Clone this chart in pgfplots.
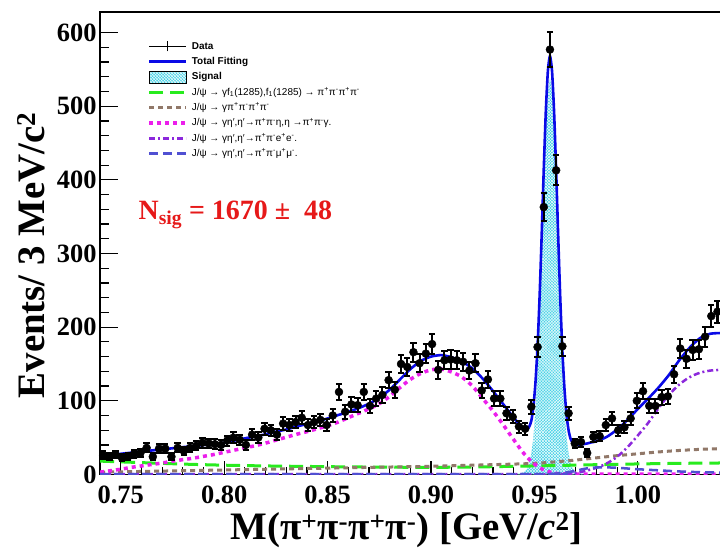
\documentclass[border=0pt]{standalone}
\usepackage{fontspec}
\setmainfont{Liberation Serif}
\newfontfamily\legfont{Liberation Sans}
\usepackage{pgfplots}
\pgfplotsset{compat=1.18}
\usetikzlibrary{patterns}
\definecolor{cblue}{RGB}{10,10,230}
\definecolor{csig}{RGB}{70,210,230}
\definecolor{cgreen}{RGB}{40,235,30}
\definecolor{cbrown}{RGB}{145,120,105}
\definecolor{cpink}{RGB}{235,30,235}
\definecolor{cpurple}{RGB}{140,40,220}
\definecolor{cbdash}{RGB}{80,80,210}
\definecolor{cred}{RGB}{230,25,25}

\pgfplotstableread{
x y e
0.7415 26 5.1
0.7445 24 4.9
0.7475 27 5.2
0.7505 23 4.8
0.7535 24 4.9
0.7565 28 5.3
0.7595 29 5.4
0.7625 36 6.0
0.7655 24 4.9
0.7685 35 5.9
0.7715 35 5.9
0.7745 24 4.9
0.7775 36 6.0
0.7805 32 5.7
0.7835 36 6.0
0.7865 39 6.2
0.7895 43 6.6
0.7925 42 6.5
0.7955 41 6.4
0.7985 40 6.3
0.8015 46 6.8
0.8045 50 7.1
0.8075 47 6.9
0.8105 40 6.3
0.8135 54 7.3
0.8165 50 7.1
0.8195 62 7.9
0.8225 60 7.7
0.8255 54 7.3
0.8285 69 8.3
0.8315 67 8.2
0.8345 71 8.4
0.8375 77 8.8
0.8405 67 8.2
0.8435 71 8.4
0.8465 74 8.6
0.8495 67 8.2
0.8525 80 8.9
0.8555 112 10.6
0.8585 85 9.2
0.8615 95 9.7
0.8645 94 9.7
0.8675 112 10.6
0.8705 93 9.6
0.8735 103 10.1
0.8765 108 10.4
0.8795 128 11.3
0.8825 115 10.7
0.8855 150 12.2
0.8885 146 12.1
0.8915 166 12.9
0.8945 151 12.3
0.8975 164 12.8
0.9005 177 13.3
0.9035 142 11.9
0.9065 155 12.4
0.9095 156 12.5
0.9125 155 12.4
0.9155 153 12.4
0.9185 141 11.9
0.9215 151 12.3
0.9245 114 10.7
0.9275 129 11.4
0.9305 103 10.1
0.9335 103 10.1
0.9365 83 9.1
0.9395 78 8.8
0.9425 65 8.1
0.9455 62 7.9
0.9485 92 9.6
0.9515 173 13.2
0.9545 363 19.1
0.9575 577 24.0
0.9605 413 20.3
0.9635 174 13.2
0.9665 83 9.1
0.9695 42 6.5
0.9725 44 6.6
0.9755 29 5.4
0.9785 51 7.1
0.9815 52 7.2
0.9845 67 8.2
0.9875 76 8.7
0.9905 60 7.7
0.9935 64 8.0
0.9965 76 8.7
0.9995 100 10.0
1.0025 113 10.6
1.0055 93 9.6
1.0085 93 9.6
1.0115 105 10.2
1.0145 106 10.3
1.0175 136 11.7
1.0205 171 13.1
1.0235 157 12.5
1.0265 169 13.0
1.0295 170 13.0
1.0325 187 13.7
1.0355 215 14.7
1.0385 221 14.9
}\datatable

\begin{document}
\begin{tikzpicture}
\begin{axis}[
  scale only axis, width=620bp, height=462bp,
  xmin=0.74, xmax=1.04, ymin=0, ymax=628,
  axis line style={line width=1.2bp},
  tick style={line width=1.2bp, black},
  major tick length=18bp, minor tick length=9bp,
  xtick style={/pgfplots/major tick length=13bp, /pgfplots/minor tick length=7bp},
  tick pos=left,
  xtick={0.75,0.80,0.85,0.90,0.95,1.00},
  minor x tick num=4,
  ytick={0,100,200,300,400,500,600},
  minor y tick num=4,
  scaled x ticks=false,
  /pgf/number format/assume math mode=true,
  ticklabel style={font=\fontsize{26.5}{30}\selectfont\bfseries},
  xticklabel style={/pgf/number format/fixed, /pgf/number format/fixed zerofill, /pgf/number format/precision=2, inner sep=1bp, yshift=-10bp},
  xlabel={M(π\textsuperscript{+}π\textsuperscript{-}π\textsuperscript{+}π\textsuperscript{-}) [GeV/\textit{c}\textsuperscript{2}]},
  ylabel={Events/ 3 MeV/c\textsuperscript{2}},
  xlabel style={at={(axis description cs:0.494,0)}, anchor=base, inner sep=0pt, yshift=-65bp, font=\fontsize{39}{43}\selectfont\bfseries},
  ylabel style={at={(axis description cs:-0.0903,0.474)}, anchor=base, font=\fontsize{39}{44}\selectfont\bfseries},
  legend style={at={(axis description cs:0.0758,0.9416)}, anchor=north west, draw=none, fill=none,
    font=\legfont\fontsize{10}{12}\selectfont, row sep=0.8bp, column sep=2bp, inner sep=0pt,
    nodes={inner sep=2bp, text height=8bp, text depth=2.5bp}},
  legend cell align=left,
]
\addlegendimage{legend image code/.code={\draw[black,line width=1.4bp] (0bp,0bp)--(37bp,0bp); \draw[black,line width=1.4bp] (18.5bp,-5bp)--(18.5bp,5bp);}}
\addlegendentry{\textbf{Data}}
\addlegendimage{legend image code/.code={\draw[cblue,line width=2.6bp] (0bp,0bp)--(37bp,0bp);}}
\addlegendentry{\textbf{Total Fitting}}
\addlegendimage{legend image code/.code={\fill[csig] (0bp,-6bp) rectangle (37bp,6bp); \fill[pattern=crosshatch, pattern color=white] (0bp,-6bp) rectangle (37bp,6bp);}}
\addlegendentry{\textbf{Signal}}
\addlegendimage{legend image code/.code={\draw[cgreen,line width=3bp,dash pattern=on 14bp off 7bp] (0bp,0bp)--(37bp,0bp);}}
\addlegendentry{J/ψ → γf\textsubscript{1}(1285),f\textsubscript{1}(1285) → π\textsuperscript{+}π\textsuperscript{-}π\textsuperscript{+}π\textsuperscript{-}}
\addlegendimage{legend image code/.code={\draw[cbrown,line width=3bp,dash pattern=on 5bp off 4bp] (0bp,0bp)--(37bp,0bp);}}
\addlegendentry{J/ψ → γπ\textsuperscript{+}π\textsuperscript{-}π\textsuperscript{+}π\textsuperscript{-}}
\addlegendimage{legend image code/.code={\draw[cpink,line width=3.5bp,dash pattern=on 4bp off 4bp] (0bp,0bp)--(37bp,0bp);}}
\addlegendentry{J/ψ → γη′,η′→π\textsuperscript{+}π\textsuperscript{-}η,η →π\textsuperscript{+}π\textsuperscript{-}γ.}
\addlegendimage{legend image code/.code={\draw[cpurple,line width=2.5bp,dash pattern=on 6bp off 3bp on 2bp off 3bp] (0bp,0bp)--(37bp,0bp);}}
\addlegendentry{J/ψ → γη′,η′→π\textsuperscript{+}π\textsuperscript{-}e\textsuperscript{+}e\textsuperscript{-}.}
\addlegendimage{legend image code/.code={\draw[cbdash,line width=2.5bp,dash pattern=on 9bp off 5bp] (0bp,0bp)--(37bp,0bp);}}
\addlegendentry{J/ψ → γη′,η′→π\textsuperscript{+}π\textsuperscript{-}μ\textsuperscript{+}μ\textsuperscript{-}.}

% signal
\addplot[draw=none, fill=csig, postaction={pattern=crosshatch, pattern color=white}, forget plot] coordinates {
(0.9375,0) (0.9405,0.5) (0.9435,1.5) (0.9455,4) (0.9465,8) (0.9475,15) (0.9485,28) (0.9495,50) (0.9505,86) (0.9515,138) (0.9525,208) (0.9535,292) (0.9545,382) (0.9555,462) (0.9565,518) (0.9575,538) (0.9585,518) (0.9595,462) (0.9605,382) (0.9615,292) (0.9625,208) (0.9635,138) (0.9645,86) (0.9655,50) (0.9665,28) (0.9675,15) (0.9685,8) (0.9695,4) (0.9715,1.5) (0.9745,0.5) (0.9775,0)
} \closedcycle;

% green f1(1285)
\addplot[cgreen, line width=3bp, dash pattern=on 14bp off 7bp, smooth, forget plot] coordinates {
(0.74,18) (0.76,16) (0.78,14) (0.80,12.5) (0.82,11.5) (0.84,10.8) (0.86,10.2) (0.88,9.8) (0.90,9.6) (0.92,10) (0.94,11) (0.96,12) (0.98,13.2) (1.00,14.2) (1.02,15) (1.04,15.5)
};
% brown gamma 4pi
\addplot[cbrown, line width=3bp, dash pattern=on 5bp off 4bp, smooth, forget plot] coordinates {
(0.74,3) (0.76,4) (0.78,5) (0.80,6) (0.82,7) (0.84,8) (0.86,9) (0.88,10) (0.90,11) (0.92,12.5) (0.94,14) (0.95,15) (0.96,17) (0.97,19.5) (0.98,22.5) (0.99,25.5) (1.00,28) (1.01,30.5) (1.02,32.5) (1.03,34) (1.04,35)
};
% pink eta' -> pi pi eta
\addplot[cpink, line width=3.5bp, dash pattern=on 4bp off 4bp, smooth, forget plot] coordinates {
(0.740,3) (0.745,5) (0.750,7) (0.755,9.5) (0.760,11.5) (0.765,13.5) (0.770,15.5) (0.775,18) (0.780,20) (0.785,22) (0.790,24.5) (0.795,27) (0.800,30) (0.805,33) (0.810,36) (0.815,39) (0.820,42.5) (0.825,46.5) (0.830,50.5) (0.835,54.5) (0.840,58) (0.845,62) (0.850,66) (0.855,71) (0.860,77) (0.865,83) (0.870,89) (0.875,96) (0.880,106) (0.885,118) (0.890,129) (0.895,137) (0.900,142) (0.905,143) (0.910,139) (0.915,132) (0.920,120) (0.925,103) (0.930,86) (0.935,67) (0.940,47) (0.945,28) (0.950,14) (0.955,5.5) (0.960,1.5) (0.965,0.5) (0.970,0.3) (1.040,0.3)
};
% purple eta' -> pi pi e e
\addplot[cpurple, line width=2.5bp, dash pattern=on 6bp off 3bp on 2bp off 3bp, smooth, forget plot] coordinates {
(0.74,0.3) (0.95,0.3) (0.96,0.4) (0.965,0.8) (0.970,2) (0.975,5) (0.980,9) (0.985,15) (0.990,24) (0.995,37) (1.000,53) (1.005,70) (1.010,90) (1.015,108) (1.020,122) (1.025,132) (1.030,138) (1.035,141) (1.040,142)
};
% blue dashed eta' -> pi pi mu mu
\addplot[cbdash, line width=2.5bp, dash pattern=on 9bp off 5bp, smooth, forget plot] coordinates {
(0.74,0.4) (0.95,0.4) (0.96,1) (0.965,2.5) (0.97,5) (0.975,8) (0.98,9.5) (0.985,9.5) (0.99,9) (0.995,8) (1.00,7) (1.01,5.5) (1.02,4) (1.03,3) (1.04,2.5)
};
% total fit
\addplot[cblue, line width=2.6bp, smooth, tension=0.4, forget plot] coordinates {
(0.740,25) (0.745,26.5) (0.750,28) (0.755,29.5) (0.760,31) (0.765,32.5) (0.770,34) (0.775,35.5) (0.780,37) (0.785,38.5) (0.790,40) (0.795,41.5) (0.800,43) (0.805,46) (0.810,49) (0.815,51.5) (0.820,54.5) (0.825,58) (0.830,61) (0.835,65) (0.840,68.5) (0.845,72) (0.850,76) (0.855,80.5) (0.860,85) (0.865,90) (0.870,96) (0.875,104) (0.880,115) (0.885,129) (0.890,143) (0.895,154) (0.900,160) (0.905,162) (0.910,159) (0.915,153) (0.920,144) (0.925,130) (0.930,113) (0.935,95) (0.940,77) (0.943,67) (0.9455,61) (0.9465,61) (0.9475,65) (0.9485,73) (0.9495,92) (0.9505,125) (0.9515,174) (0.9525,242) (0.9535,325) (0.9545,414) (0.9555,493) (0.9565,548) (0.9575,568) (0.9585,548) (0.9595,492) (0.9605,412) (0.9615,322) (0.9625,238) (0.9635,168) (0.9645,117) (0.9655,81) (0.9665,60) (0.9675,48) (0.9685,43) (0.9695,41) (0.9715,40) (0.9735,41) (0.9755,42) (0.9775,43.5) (0.980,45) (0.985,51) (0.990,61) (0.995,74) (1.000,89) (1.005,103) (1.010,118) (1.015,135) (1.020,155) (1.025,172) (1.030,185) (1.035,191) (1.040,192)
};
% data
\addplot[forget plot, only marks, mark=*, mark size=4bp, black, mark options={fill=black, draw=black},
  error bars/.cd, y dir=both, y explicit,
  error bar style={line width=2bp, black},
  error mark options={rotate=90, mark size=3.2bp, line width=2bp, black}]
  table[x=x, y=y, y error=e] {\datatable};

\node[anchor=base west, text=cred, font=\fontsize{28}{30}\selectfont\bfseries] at (rel axis cs:0.0565,0.552) {N\textsubscript{sig} = 1670 ±\hspace{14bp}48};
\end{axis}
\pgfresetboundingbox
\path[use as bounding box] (-100bp,-76bp) rectangle (619.4bp,474bp);
\end{tikzpicture}
\end{document}
